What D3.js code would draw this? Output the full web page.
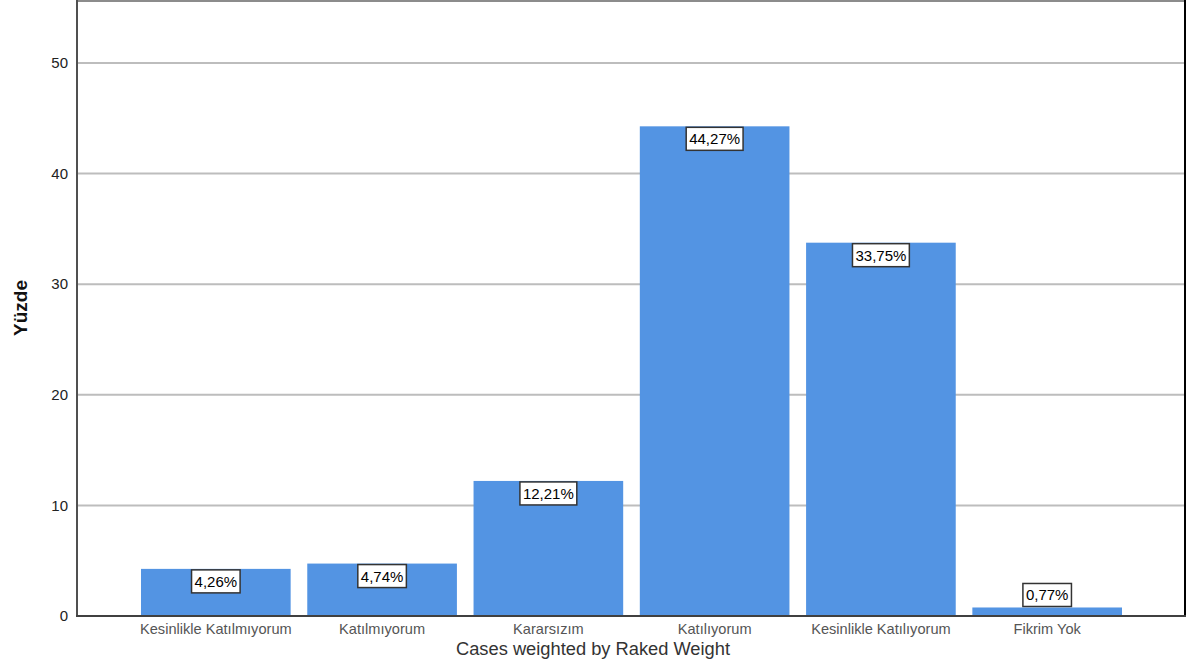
<!DOCTYPE html>
<html><head><meta charset="utf-8">
<script src="https://cdn.jsdelivr.net/npm/d3@7"></script>
<style>body{margin:0;background:#fff;}svg{display:block;font-family:Arial,"Liberation Sans",sans-serif;}</style>
</head><body>
<svg id="c" width="1188" height="666"></svg>
<script>
const categories = ["Kesinlikle Katılmıyorum","Katılmıyorum","Kararsızım","Katılıyorum","Kesinlikle Katılıyorum","Fikrim Yok"];
const values = [4.26, 4.74, 12.21, 44.27, 33.75, 0.77];
const labels = ["4,26%","4,74%","12,21%","44,27%","33,75%","0,77%"];
const yTicks = [0,10,20,30,40,50];

const svg = d3.select("#c");
const L=77, R=1185, T=1, B=616;
const y = d3.scaleLinear().domain([0,55.6]).range([B,T]);
const x = d3.scaleBand().domain(categories).range([141,1122]).paddingInner(0.1).paddingOuter(0);

// gridlines
svg.append("g").selectAll("line").data(yTicks.filter(d=>d>0)).join("line")
  .attr("x1",L).attr("x2",R).attr("y1",d=>y(d)).attr("y2",d=>y(d))
  .attr("stroke","#bdbdbd").attr("stroke-width",2);

// top & right border
svg.append("line").attr("x1",L).attr("x2",R).attr("y1",1).attr("y2",1).attr("stroke","#8c8c8c").attr("stroke-width",2);
svg.append("line").attr("x1",R).attr("x2",R).attr("y1",0).attr("y2",B).attr("stroke","#000").attr("stroke-width",2);

// bars
svg.append("g").selectAll("rect").data(categories).join("rect")
  .attr("x",d=>x(d)).attr("width",x.bandwidth())
  .attr("y",(d,i)=>y(values[i])).attr("height",(d,i)=>B-y(values[i]))
  .attr("fill","#5394e3");

// axes
const yAxis = d3.axisLeft(y).tickValues(yTicks).tickSize(0).tickPadding(9);
const gy = svg.append("g").attr("transform",`translate(${L},0)`).call(yAxis);
gy.select(".domain").remove();
gy.selectAll("text").attr("font-size",15).attr("fill","#222").attr("font-family","Arial,'Liberation Sans',sans-serif");
svg.append("line").attr("x1",L).attr("x2",L).attr("y1",0).attr("y2",B+1).attr("stroke","#505050").attr("stroke-width",2);

const xAxis = d3.axisBottom(x).tickSize(0).tickPadding(8);
const gx = svg.append("g").attr("transform",`translate(0,${B})`).call(xAxis);
gx.select(".domain").remove();
gx.selectAll("text").attr("font-size",14.6).attr("fill","#555").attr("font-family","Arial,'Liberation Sans',sans-serif");
svg.append("line").attr("x1",L-1).attr("x2",R+1).attr("y1",B).attr("y2",B).attr("stroke","#404040").attr("stroke-width",2);

// value labels
const lg = svg.append("g");
categories.forEach((c,i)=>{
  const cx = x(c)+x.bandwidth()/2;
  const top = y(values[i]);
  const h = 23;
  const by = (B-top) < h+4 ? top-h-1 : top+1;
  const t = lg.append("text").attr("x",cx).attr("y",by+h/2+5.5).attr("text-anchor","middle")
    .attr("font-size",15).attr("fill","#000").text(labels[i]);
  const w = t.node().getComputedTextLength()+6;
  lg.insert("rect","text").attr("x",cx-w/2).attr("y",by).attr("width",w).attr("height",h)
    .attr("fill","#fff").attr("stroke","#333").attr("stroke-width",1.5);
});

// axis titles
svg.append("text").attr("transform","translate(27,308) rotate(-90)").attr("text-anchor","middle")
  .attr("font-size",19).attr("font-weight","bold").attr("fill","#111").text("Yüzde");
svg.append("text").attr("x",593).attr("y",655).attr("text-anchor","middle")
  .attr("font-size",18.3).attr("fill","#333").text("Cases weighted by Raked Weight");
</script>
</body></html>
